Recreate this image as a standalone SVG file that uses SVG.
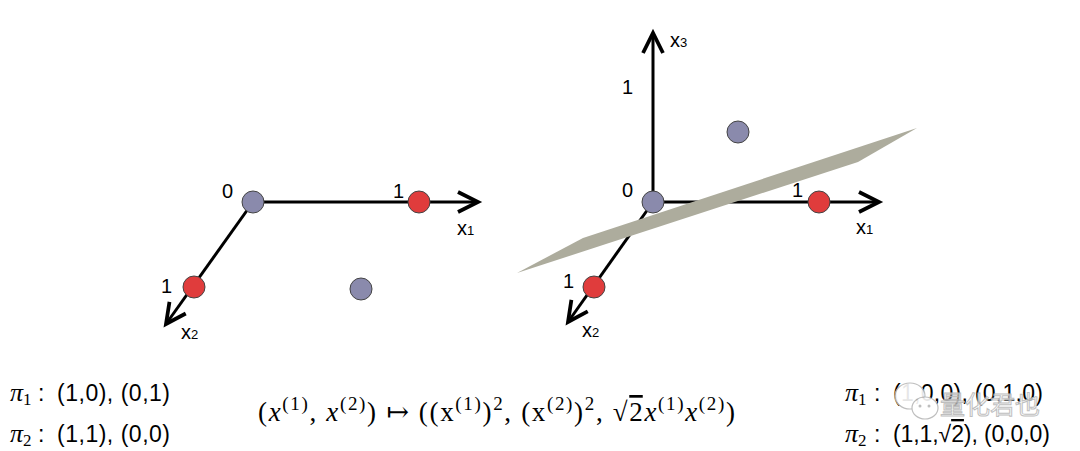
<svg xmlns="http://www.w3.org/2000/svg" width="1080" height="451" viewBox="0 0 1080 451">
<defs>
<style>
.axis{stroke:#000;stroke-width:3;fill:none}
.blue{fill:#8a8aac;stroke:#444;stroke-width:1}
.red{fill:#e03c3c;stroke:#444;stroke-width:1}
.lab{font-family:"Liberation Sans",Arial,sans-serif;font-size:20px;fill:#000}
.sub{font-size:13px}
.math{font-family:"Liberation Serif","DejaVu Serif",serif;font-size:27px;fill:#000}
.pi{font-family:"Liberation Serif","DejaVu Serif",serif;font-style:italic;font-size:26px;fill:#000}
.psub{font-family:"Liberation Serif","DejaVu Serif",serif;font-size:17px;fill:#000}
.txt{font-family:"Liberation Sans",Arial,sans-serif;font-size:23px;fill:#000}
.wm{font-family:"Noto Sans CJK SC",sans-serif;font-size:25px;fill:#fff;stroke:#b8b8b8;stroke-width:1;fill-opacity:0.85}
</style>
<marker id="arr" markerUnits="userSpaceOnUse" markerWidth="30" markerHeight="30" viewBox="-20 -12 24 24" refX="0" refY="0" orient="auto">
<path d="M-16,-8 L0,0 L-16,8" fill="none" stroke="#000" stroke-width="3"/>
</marker>
</defs>
<rect width="1080" height="451" fill="#fff"/>

<g id="connectors">
<line class="axis" x1="253" y1="202" x2="478" y2="202" marker-end="url(#arr)"/>
<line class="axis" x1="253" y1="202" x2="166" y2="324" marker-end="url(#arr)"/>
<line class="axis" x1="653" y1="202" x2="879" y2="202" marker-end="url(#arr)"/>
<line class="axis" x1="653" y1="202" x2="568" y2="322" marker-end="url(#arr)"/>
<line class="axis" x1="653" y1="202" x2="653" y2="33" marker-end="url(#arr)"/>
</g>

<g id="left-plot">
<text class="lab" x="222" y="198">0</text>
<text class="lab" x="393" y="198">1</text>
<text class="lab" x="161" y="293">1</text>
<text class="lab" x="457" y="235">x<tspan class="sub">1</tspan></text>
<text class="lab" x="181" y="339">x<tspan class="sub">2</tspan></text>
</g>
<g id="left-origin"><circle class="blue" cx="253" cy="202" r="11"/></g>
<g id="left-p10"><circle class="red" cx="419" cy="202" r="11"/></g>
<g id="left-p01"><circle class="red" cx="194" cy="287" r="11"/></g>
<g id="left-p11"><circle class="blue" cx="361" cy="289" r="11"/></g>

<g id="plane"><polygon points="517,273 583,238 917,128 858,162" fill="#adac9d"/></g>

<g id="right-plot">
<text class="lab" x="622" y="197">0</text>
<text class="lab" x="792" y="197">1</text>
<text class="lab" x="563" y="288">1</text>
<text class="lab" x="622" y="94">1</text>
<text class="lab" x="670" y="47">x<tspan class="sub">3</tspan></text>
<text class="lab" x="856" y="234">x<tspan class="sub">1</tspan></text>
<text class="lab" x="582" y="337">x<tspan class="sub">2</tspan></text>
</g>
<g id="right-origin"><circle class="blue" cx="653" cy="202" r="11"/></g>
<g id="right-p100"><circle class="red" cx="819" cy="202" r="11"/></g>
<g id="right-p010"><circle class="red" cx="594" cy="287" r="11"/></g>
<g id="right-p11r2"><circle class="blue" cx="738" cy="132" r="11"/></g>

<g id="left-classes">
<text class="pi" x="10" y="401">π<tspan class="psub" font-style="normal" dy="4">1</tspan></text>
<text class="txt" x="38" y="401">:</text>
<text class="txt" x="57" y="401" textLength="113" lengthAdjust="spacing">(1,0), (0,1)</text>
<text class="pi" x="10" y="442">π<tspan class="psub" font-style="normal" dy="4">2</tspan></text>
<text class="txt" x="38" y="442">:</text>
<text class="txt" x="57" y="442" textLength="113" lengthAdjust="spacing">(1,1), (0,0)</text>
</g>

<g id="mapping">
<text class="math" x="258" y="421" textLength="477" lengthAdjust="spacing">(<tspan font-style="italic">x</tspan><tspan font-size="19" dy="-11">(1)</tspan><tspan dy="11">, </tspan><tspan font-style="italic">x</tspan><tspan font-size="19" dy="-11">(2)</tspan><tspan dy="11">) ↦ ((x</tspan><tspan font-size="19" dy="-11">(1)</tspan><tspan dy="11">)</tspan><tspan font-size="19" dy="-11">2</tspan><tspan dy="11">, (x</tspan><tspan font-size="19" dy="-11">(2)</tspan><tspan dy="11">)</tspan><tspan font-size="19" dy="-11">2</tspan><tspan dy="11">, √</tspan><tspan style="text-decoration:overline">2</tspan><tspan font-style="italic">x</tspan><tspan font-size="19" dy="-11">(1)</tspan><tspan font-style="italic" dy="11">x</tspan><tspan font-size="19" dy="-11">(2)</tspan><tspan dy="11">)</tspan></text>
</g>

<g id="right-classes">
<text class="pi" x="845" y="401">π<tspan class="psub" font-style="normal" dy="4">1</tspan></text>
<text class="txt" x="874" y="401">:</text>
<text class="txt" x="893" y="401" textLength="150" lengthAdjust="spacing">(1,0,0), (0,1,0)</text>
<text class="pi" x="845" y="442">π<tspan class="psub" font-style="normal" dy="4">2</tspan></text>
<text class="txt" x="874" y="442">:</text>
<text class="txt" x="893" y="442" textLength="157" lengthAdjust="spacing">(1,1,√<tspan style="text-decoration:overline">2</tspan>), (0,0,0)</text>
</g>

<g id="watermark" opacity="0.9">
<ellipse cx="910" cy="396" rx="15" ry="13" fill="#fff" stroke="#b8b8b8" stroke-width="1.2"/>
<ellipse cx="925" cy="408" rx="13" ry="11" fill="#fff" stroke="#b8b8b8" stroke-width="1.2"/>
<circle cx="920" cy="406" r="1.5" fill="#b8b8b8"/><circle cx="929" cy="406" r="1.5" fill="#b8b8b8"/>
<text class="wm" x="940" y="414">量化君也</text>
</g>
</svg>
